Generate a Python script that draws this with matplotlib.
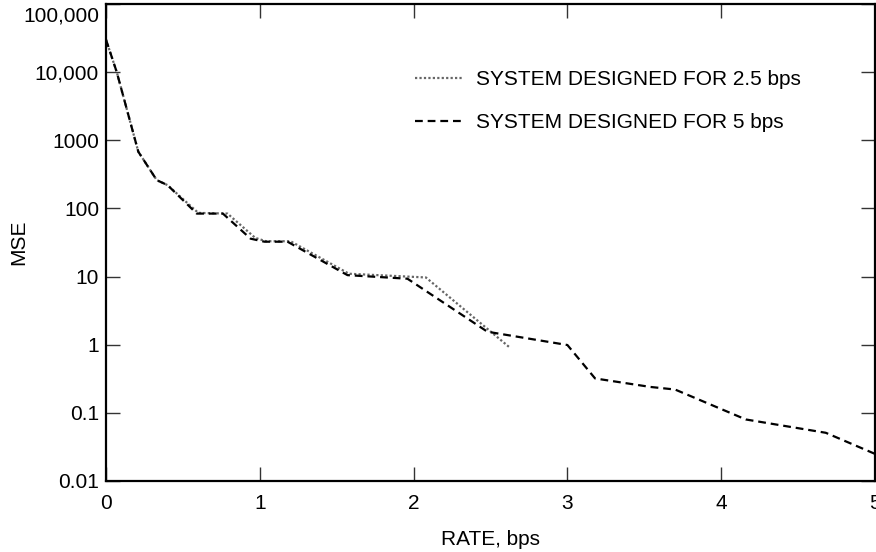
import matplotlib
matplotlib.use("Agg")
import matplotlib.pyplot as plt
from matplotlib.ticker import FixedLocator, FixedFormatter, NullLocator
from matplotlib.transforms import ScaledTranslation

plt.rcParams['font.family'] = ['Liberation Sans', 'DejaVu Sans']

# System designed for 2.5 bps (dotted)
rate_25 = [0.0, 0.07, 0.21, 0.33, 0.40, 0.60, 0.79, 0.97, 1.04, 1.20, 1.58, 2.08, 2.62]
mse_25 = [30000, 10000, 680, 260, 220, 86, 84, 37, 33, 33, 11, 9.7, 0.93]

# System designed for 5 bps (dashed)
rate_5 = [0.0, 0.07, 0.21, 0.33, 0.40, 0.59, 0.76, 0.94, 1.03, 1.18, 1.57, 1.96, 2.48,
          3.00, 3.18, 3.54, 3.70, 4.16, 4.68, 5.0]
mse_5 = [30000, 10000, 680, 260, 220, 84, 84, 36, 32.5, 32.5, 10.5, 9.3, 1.55,
         0.99, 0.32, 0.24, 0.22, 0.080, 0.051, 0.025]

xticks = [0, 1, 2, 3, 4, 5]
yticks = [0.01, 0.1, 1, 10, 100, 1000, 10000, 100000]
ytick_labels = ['0.01', '0.1', '1', '10', '100', '1000', '10,000', '100,000']

label_25 = 'SYSTEM DESIGNED FOR 2.5 bps'
label_5 = 'SYSTEM DESIGNED FOR 5 bps'

W, H = 876, 552
fig = plt.figure(figsize=(W/100, H/100), dpi=100)
ax = fig.add_axes([106/W, 1-481/H, (875-106)/W, (481-4)/H])

ax.plot(rate_25, mse_25, color='#666666', lw=1.6, dashes=(1, 1), label=label_25)
ax.plot(rate_5, mse_5, color='black', lw=1.6, dashes=(3.5, 2.2), label=label_5)

ax.set_yscale('log')
ax.set_xlim(0, 5)
ax.set_ylim(0.01, 100000)
ax.xaxis.set_major_locator(FixedLocator(xticks))
ax.xaxis.set_major_formatter(FixedFormatter([str(t) for t in xticks]))
ax.yaxis.set_major_locator(FixedLocator(yticks))
ax.yaxis.set_major_formatter(FixedFormatter(ytick_labels))
ax.yaxis.set_minor_locator(NullLocator())
ax.xaxis.set_minor_locator(NullLocator())

ax.tick_params(axis='both', which='major', direction='in', length=10, width=1,
               top=True, right=True, labelsize=15, color='#333333')
ax.tick_params(axis='x', pad=9.5)
ax.tick_params(axis='y', pad=5)
for s in ax.spines.values():
    s.set_linewidth(1.6)

ax.set_xlabel('RATE, bps', fontsize=15, labelpad=12)
ax.set_ylabel('MSE', fontsize=15, labelpad=-4)

leg = ax.legend(loc='upper left', bbox_to_anchor=(415/W, 1-70/H),
                bbox_transform=fig.transFigure, frameon=False, borderpad=0,
                borderaxespad=0, fontsize=15, handlelength=2.25,
                handletextpad=0.67, labelspacing=1.15)

fig.canvas.draw()
top_lbl = ax.yaxis.get_major_ticks()[-1].label1
top_lbl.set_transform(top_lbl.get_transform() + ScaledTranslation(0, -10/100, fig.dpi_scale_trans))

fig.savefig('out.png', dpi=100)
